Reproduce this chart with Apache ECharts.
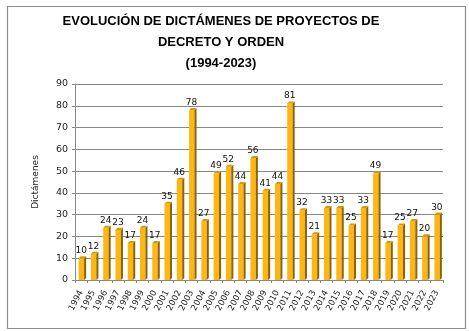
<!DOCTYPE html>
<html>
<head>
<meta charset="utf-8">
<script src="https://cdn.jsdelivr.net/npm/echarts@6/dist/echarts.min.js"></script>
<style>html,body{margin:0;padding:0;background:#fff;}#c{width:469px;height:331px;}</style>
</head>
<body>
<div id="c"></div>
<script>
var years = ['1994','1995','1996','1997','1998','1999','2000','2001','2002','2003','2004','2005','2006','2007','2008','2009','2010','2011','2012','2013','2014','2015','2016','2017','2018','2019','2020','2021','2022','2023'];
var dictamenes = [10,12,24,23,17,24,17,35,46,78,27,49,52,44,56,41,44,81,32,21,33,33,25,33,49,17,25,27,20,30];
var yTicks = {min: 0, max: 90, interval: 10};
var titleText = 'EVOLUCIÓN DE DICTÁMENES DE PROYECTOS DE\nDECRETO Y ORDEN\n(1994-2023)';
var yName = 'Dictámenes';

var FRONT = '#FFB612', SIDE = '#8B6508', TOP = '#D99A00';

function renderItem(params, api) {
  var idx = api.value(0), val = api.value(1);
  var p = api.coord([idx, val]);
  var b = api.coord([idx, 0]);
  var band = api.size([1, 0])[0];
  var cx = p[0];
  var l = cx - band * 0.2, r = cx + band * 0.24, d = band * 0.17;
  return {
    type: 'group',
    children: [
      {type: 'rect', shape: {x: l, y: p[1], width: r - l, height: b[1] - p[1]}, style: {fill: FRONT}},
      {type: 'polygon', shape: {points: [[r, p[1]], [r + d, p[1] - d], [r + d, b[1] - d], [r, b[1]]]}, style: {fill: SIDE}},
      {type: 'polygon', shape: {points: [[l, p[1]], [l + d, p[1] - d], [r + d, p[1] - d], [r, p[1]]]}, style: {fill: TOP}},
      {type: 'text', x: cx, y: p[1] - 3, style: {text: String(val), align: 'center', verticalAlign: 'bottom', fill: '#111', fontSize: 9, fontFamily: 'DejaVu Sans'}}
    ]
  };
}

var chart = echarts.init(document.getElementById('c'));
chart.setOption({
  backgroundColor: '#fff',
  animation: false,
  title: {
    text: titleText,
    left: 221, top: 11, padding: 0, textAlign: 'center',
    textStyle: {fontFamily: 'Liberation Sans', fontWeight: 'bold', fontSize: 13, lineHeight: 21, color: '#000'}
  },
  graphic: [{
    type: 'rect', left: 5, top: 4, z: -10,
    shape: {width: 458, height: 322},
    style: {fill: 'none', stroke: '#8c8c8c', lineWidth: 1.2}
  }],
  grid: {left: 75, right: 26, top: 84, bottom: 51},
  xAxis: {
    type: 'category', data: years, boundaryGap: true,
    axisLine: {lineStyle: {color: '#888'}},
    axisTick: {show: true, length: 3, lineStyle: {color: '#888'}},
    axisLabel: {interval: 0, rotate: 62, fontSize: 8.5, margin: 11, color: '#222', fontFamily: 'DejaVu Sans'}
  },
  yAxis: {
    type: 'value', min: yTicks.min, max: yTicks.max, interval: yTicks.interval,
    name: yName, nameLocation: 'middle', nameGap: 35,
    nameTextStyle: {fontSize: 9, fontFamily: 'DejaVu Sans', color: '#222'},
    axisLine: {show: true, lineStyle: {color: '#888'}},
    axisTick: {show: true, length: 3, lineStyle: {color: '#888'}},
    axisLabel: {fontSize: 9.5, margin: 7, color: '#222', fontFamily: 'DejaVu Sans'},
    splitLine: {lineStyle: {color: '#888'}}
  },
  series: [{
    type: 'custom',
    renderItem: renderItem,
    encode: {x: 0, y: 1},
    data: dictamenes.map(function (v, i) { return [i, v]; })
  }]
});
</script>
</body>
</html>
